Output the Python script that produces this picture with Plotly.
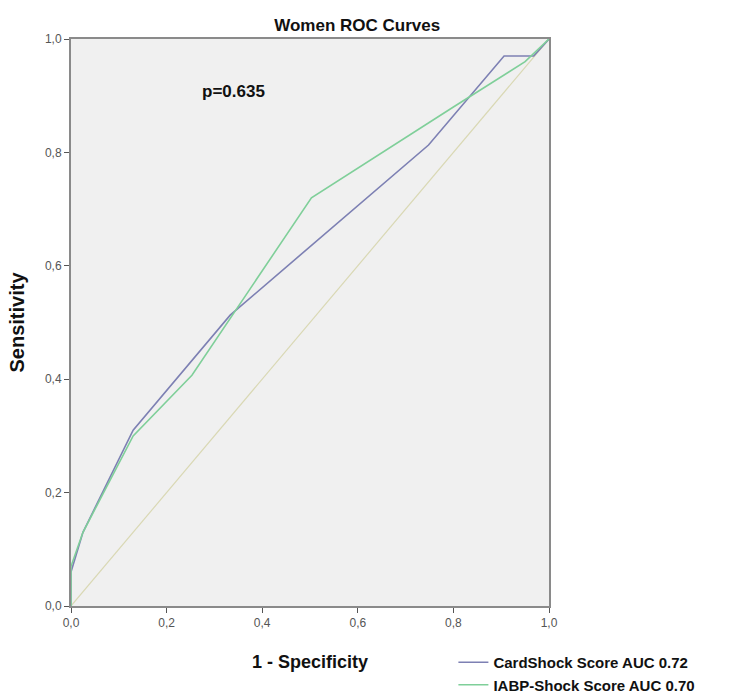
import plotly.graph_objects as go

# Data
card_fpr = [0.0, 0.0, 0.025, 0.13, 0.333, 0.748, 0.906, 0.968, 1.0]
card_tpr = [0.0, 0.06, 0.13, 0.31, 0.513, 0.813, 0.97, 0.97, 1.0]
iabp_fpr = [0.0, 0.0, 0.025, 0.13, 0.253, 0.503, 0.80, 0.95, 1.0]
iabp_tpr = [0.0, 0.07, 0.13, 0.30, 0.407, 0.72, 0.88, 0.96, 1.0]
ref_line = [0.0, 1.0]
series_names = ["CardShock Score AUC 0.72", "IABP-Shock Score AUC 0.70"]
tick_vals = [0.0, 0.2, 0.4, 0.6, 0.8, 1.0]
tick_text = ["0,0", "0,2", "0,4", "0,6", "0,8", "1,0"]

FONT = "Liberation Sans Narrow, Arial Narrow, Liberation Sans, Arial, sans-serif"

fig = go.Figure()
fig.add_trace(go.Scatter(x=ref_line, y=ref_line, mode="lines",
                         line=dict(color="#d9d8b4", width=1.2), showlegend=False,
                         hoverinfo="skip"))
fig.add_trace(go.Scatter(x=card_fpr, y=card_tpr, mode="lines", name="<b>" + series_names[0] + "</b>",
                         line=dict(color="#7d80b3", width=1.6)))
fig.add_trace(go.Scatter(x=iabp_fpr, y=iabp_tpr, mode="lines", name="<b>" + series_names[1] + "</b>",
                         line=dict(color="#7fcf99", width=1.6)))

fig.add_annotation(x=0.34, y=0.908, xref="x", yref="y", text="<b>p=0.635</b>",
                   showarrow=False, font=dict(family=FONT, size=17, color="#111111"))
# x-axis title placed as paper annotation (keeps plot area fixed)
fig.add_annotation(x=0.5, y=(606 - 662) / 567, xref="paper", yref="paper",
                   yanchor="middle", text="<b>1 - Specificity</b>", showarrow=False,
                   font=dict(family=FONT, size=18, color="#111111"))

axis_common = dict(range=[0, 1], tickvals=tick_vals, ticktext=tick_text,
                   showgrid=False, zeroline=False, showline=True, mirror=True,
                   linecolor="#8a8a8a", linewidth=2, ticks="outside", ticklen=5,
                   tickcolor="#555555", tickwidth=1.2, automargin=False,
                   tickfont=dict(family=FONT, size=12, color="#555555"))

fig.update_layout(
    width=729, height=700,
    margin=dict(l=71, r=180, t=39, b=94),
    paper_bgcolor="white", plot_bgcolor="#f0f0f0",
    title=dict(text="<b>Women ROC Curves</b>", x=0.49, xanchor="center",
               y=1 - 25 / 700, yanchor="middle",
               font=dict(family=FONT, size=17, color="#111111")),
    xaxis=dict(axis_common),
    yaxis=dict(axis_common,
               title=dict(text="<b>Sensitivity</b>",
                          font=dict(family=FONT, size=20, color="#111111"))),
    legend=dict(x=0.8, xanchor="left", yref="container", y=(700 - 646) / 700,
                yanchor="top", bgcolor="rgba(0,0,0,0)", tracegroupgap=0,
                font=dict(family=FONT, size=15, color="#111111"),
                itemwidth=30),
    showlegend=True,
)

fig.write_html("out.html", config={"displayModeBar": False},
               post_script="document.body.style.margin='0';")
